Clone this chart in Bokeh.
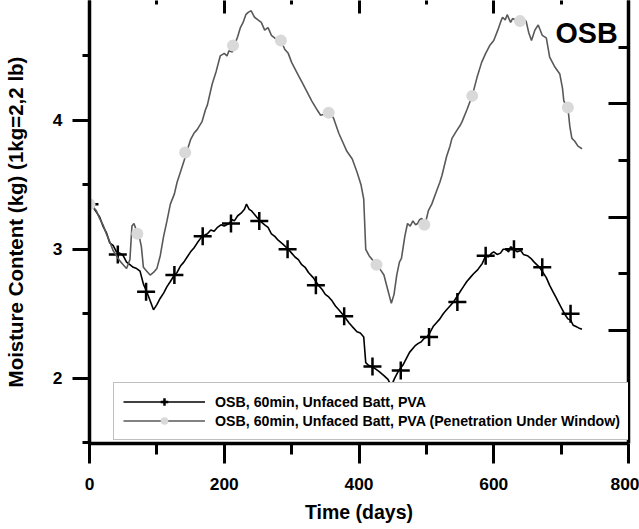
from bokeh.plotting import figure
from bokeh.models import (LinearAxis, Range1d, FixedTicker, Legend, LegendItem, Label)
from bokeh.embed import file_html
from bokeh.resources import INLINE

# ---- data ----
days_a = [0, 5, 10, 15, 20, 25, 30, 35, 40, 45, 50, 55, 60, 65, 70, 75, 80, 85, 90, 95,
          100, 105, 110, 115, 120, 126, 130, 135, 140, 145, 150, 155, 160, 167, 175, 180,
          185, 190, 195, 200, 207, 212, 215, 220, 225, 230, 233, 237, 240, 245, 253, 260,
          265, 270, 275, 280, 287, 295, 300, 305, 310, 315, 320, 325, 332, 340, 345, 350,
          355, 360, 365, 370, 378, 385, 390, 397, 402, 407, 410, 414, 418, 422, 425, 430,
          437, 443, 448, 453, 459, 465, 470, 475, 483, 488, 492, 497, 501, 506, 510, 515,
          520, 525, 530, 535, 540, 545, 550, 555, 560, 565, 570, 576, 583, 588, 592, 597,
          600, 605, 610, 614, 618, 622, 625, 630, 635, 640, 644, 650, 655, 660, 668, 673,
          678, 683, 688, 692, 695, 700, 705, 710, 714, 718, 722, 726, 731]
moist_a = [3.35, 3.33, 3.29, 3.25, 3.18, 3.13, 3.05, 3.03, 2.98, 2.97, 2.95, 2.90, 2.88, 2.86,
           2.85, 2.83, 2.73, 2.67, 2.60, 2.53, 2.57, 2.62, 2.66, 2.71, 2.75, 2.80, 2.82, 2.87,
           2.90, 2.94, 2.98, 3.01, 3.05, 3.10, 3.12, 3.15, 3.14, 3.17, 3.19, 3.18, 3.20, 3.23,
           3.22, 3.26, 3.28, 3.31, 3.35, 3.31, 3.30, 3.27, 3.22, 3.19, 3.17, 3.12, 3.10, 3.07,
           3.04, 3.00, 2.97, 2.94, 2.92, 2.88, 2.86, 2.82, 2.78, 2.72, 2.69, 2.65, 2.63, 2.60,
           2.56, 2.53, 2.48, 2.43, 2.40, 2.36, 2.35, 2.32, 2.12, 2.10, 2.09, 2.08, 2.07, 2.05,
           2.02, 1.99, 1.94, 2.00, 2.06, 2.10, 2.15, 2.20, 2.25, 2.27, 2.28, 2.31, 2.32, 2.36,
           2.40, 2.43, 2.46, 2.50, 2.53, 2.56, 2.59, 2.63, 2.67, 2.71, 2.75, 2.78, 2.81, 2.84,
           2.89, 2.95, 2.94, 2.97, 2.98, 2.96, 2.97, 3.00, 3.00, 2.98, 3.02, 3.00, 2.98, 2.99,
           2.96, 2.95, 2.93, 2.90, 2.86, 2.82, 2.78, 2.72, 2.67, 2.63, 2.60, 2.55, 2.50, 2.46,
           2.45, 2.41, 2.40, 2.39, 2.38]

days_b = [0, 5, 10, 15, 20, 25, 30, 35, 40, 45, 50, 55, 60, 63, 66, 70, 73, 77, 80, 85, 90,
          95, 100, 105, 110, 115, 120, 126, 130, 135, 140, 144, 150, 155, 160, 167, 172, 175,
          182, 188, 194, 200, 204, 207, 212, 215, 220, 224, 228, 232, 236, 240, 245, 250, 255,
          260, 265, 270, 277, 284, 290, 295, 300, 305, 310, 315, 320, 325, 330, 338, 343, 350,
          355, 362, 366, 370, 376, 382, 390, 397, 403, 407, 410, 415, 421, 427, 432, 437, 442,
          448, 452, 456, 460, 463, 468, 472, 476, 480, 484, 487, 490, 493, 498, 503, 508, 515,
          520, 523, 530, 535, 538, 545, 550, 553, 560, 568, 575, 582, 588, 594, 600, 606, 610,
          613, 617, 620, 625, 628, 632, 638, 643, 648, 652, 656, 661, 666, 672, 678, 683, 690,
          698, 702, 704, 710, 713, 716, 720, 725, 731]
moist_b = [3.35, 3.33, 3.30, 3.24, 3.19, 3.12, 3.06, 2.99, 2.95, 2.91, 2.88, 2.85, 2.92, 3.18,
           3.20, 3.14, 3.12, 3.02, 2.86, 2.83, 2.80, 2.82, 2.85, 2.95, 3.10, 3.22, 3.35, 3.43,
           3.52, 3.60, 3.68, 3.75, 3.85, 3.90, 3.93, 3.99, 4.08, 4.12, 4.28, 4.38, 4.50, 4.52,
           4.50, 4.54, 4.53, 4.58, 4.65, 4.72, 4.76, 4.82, 4.84, 4.85, 4.80, 4.78, 4.76, 4.70,
           4.72, 4.66, 4.63, 4.62, 4.55, 4.52, 4.45, 4.40, 4.35, 4.30, 4.25, 4.20, 4.15, 4.08,
           4.04, 4.05, 4.06, 4.02, 3.96, 3.90, 3.83, 3.76, 3.70, 3.60, 3.50, 3.39, 3.00, 2.95,
           2.91, 2.88, 2.84, 2.80, 2.70, 2.58, 2.65, 2.80, 2.90, 2.93, 3.10, 3.20, 3.18, 3.22,
           3.19, 3.20, 3.23, 3.24, 3.19, 3.30, 3.35, 3.45, 3.52, 3.57, 3.72, 3.80, 3.86, 3.92,
           3.96, 3.99, 4.08, 4.19, 4.33, 4.45, 4.52, 4.58, 4.62, 4.70, 4.76, 4.80, 4.78, 4.82,
           4.76, 4.79, 4.78, 4.77, 4.79, 4.77, 4.68, 4.62, 4.70, 4.74, 4.66, 4.64, 4.49, 4.42,
           4.36, 4.25, 4.15, 4.10, 3.95, 3.86, 3.84, 3.80, 3.78]

mark_days_a = [0, 42, 84, 126, 168, 210, 252, 294, 336, 378, 420, 462, 504, 546, 588, 630, 672, 714]
mark_moist_a = [3.35, 2.96, 2.67, 2.80, 3.10, 3.20, 3.22, 3.00, 2.72, 2.48, 2.09, 2.06, 2.32,
                2.59, 2.95, 3.00, 2.86, 2.50]
mark_days_b = [0, 71, 142, 213, 284, 355, 426, 497, 568, 639, 710]
mark_moist_b = [3.35, 3.12, 3.75, 4.58, 4.62, 4.06, 2.88, 3.19, 4.19, 4.77, 4.10]

label_a = "OSB, 60min, Unfaced Batt, PVA"
label_b = "OSB, 60min, Unfaced Batt, PVA (Penetration Under Window)"
x_ticks = [0, 200, 400, 600, 800]
x_minor = [100, 300, 500, 700]
y_ticks = [2, 3, 4]
y_minor = [1.5, 2.5, 3.5, 4.5]
r_ticks = [6, 8, 10]
r_minor = [5, 7, 9, 11]

FONT = "Liberation Sans"

p = figure(width=639, height=525, output_backend="svg", toolbar_location=None,
           x_range=Range1d(0, 800), y_range=Range1d(1.493, 4.93),
           min_border_left=83, min_border_right=11, min_border_top=0, min_border_bottom=80)
p.outline_line_color = None
p.grid.visible = False
p.background_fill_color = "white"

# main axes
xa = p.xaxis[0]
ya = p.yaxis[0]
xa.ticker = FixedTicker(ticks=x_ticks, minor_ticks=x_minor)
ya.ticker = FixedTicker(ticks=y_ticks, minor_ticks=y_minor)
for ax in (xa, ya):
    ax.axis_line_width = 3.5
    ax.axis_line_color = "black"
    ax.major_tick_line_width = 3
    ax.minor_tick_line_width = 3
    ax.major_tick_in = 0
    ax.minor_tick_in = 0
    ax.major_label_text_font = FONT
    ax.major_label_text_font_style = "bold"
    ax.major_label_text_font_size = "17.4px"
    ax.major_label_text_color = "black"
    ax.axis_label_text_font = FONT
    ax.axis_label_text_font_style = "bold"
    ax.axis_label_text_color = "black"
xa.major_tick_out = 20
xa.minor_tick_out = 11
xa.major_label_standoff = 14
xa.axis_label = "Time (days)"
xa.axis_label_text_font_size = "19.5px"
xa.axis_label_standoff = 8
ya.major_tick_out = 17
ya.minor_tick_out = 7
ya.major_label_standoff = 10
ya.axis_label = "Moisture Content (kg) (1kg=2,2 lb)"
ya.axis_label_text_font_size = "20.5px"
ya.axis_label_standoff = 23

# top axis (ticks only)
top = LinearAxis(ticker=FixedTicker(ticks=x_ticks, minor_ticks=x_minor),
                 axis_line_color=None, major_tick_in=13, major_tick_out=0,
                 minor_tick_in=4, minor_tick_out=0, major_tick_line_width=3,
                 minor_tick_line_width=3, major_label_overrides={t: "" for t in x_ticks},
                 major_label_standoff=-30)
p.add_layout(top, "above")

# right axis (secondary scale, ticks only)
p.extra_y_ranges = {"r": Range1d(4.0, 11.824)}
right = LinearAxis(y_range_name="r", ticker=FixedTicker(ticks=r_ticks, minor_ticks=r_minor),
                   axis_line_width=3.5, major_tick_in=20, major_tick_out=0,
                   minor_tick_in=10, minor_tick_out=0, major_tick_line_width=3,
                   minor_tick_line_width=3, major_label_overrides={t: "" for t in r_ticks},
                   major_label_standoff=0)
p.add_layout(right, "right")

# series
ra_line = p.line(days_a, moist_a, line_color="black", line_width=1.6)
ra_mark = p.scatter(mark_days_a, mark_moist_a, marker="cross", size=18, line_color="black",
                    line_width=2.5)
rb_line = p.line(days_b, moist_b, line_color="#595959", line_width=1.6)
rb_mark = p.scatter(mark_days_b, mark_moist_b, marker="circle", size=12, fill_color="#d9d9d9",
                    line_color=None)

legend = Legend(items=[LegendItem(label=label_a, renderers=[ra_line, ra_mark]),
                       LegendItem(label=label_b, renderers=[rb_line, rb_mark])],
                location=(24, 3), orientation="vertical",
                border_line_color="#808080", border_line_width=1,
                background_fill_color="white", background_fill_alpha=1,
                label_text_font=FONT, label_text_font_style="bold",
                label_text_font_size="14.2px", label_text_color="black",
                glyph_width=82, glyph_height=19, label_height=19, spacing=0,
                padding=9, margin=0, label_standoff=10)
p.add_layout(legend, "center")

p.add_layout(Label(x=784, y=4.68, text="OSB", text_align="right",
                   text_baseline="alphabetic", text_font=FONT, text_font_style="bold",
                   text_font_size="28.7px", text_color="black"))

open("out.html", "w").write(file_html(p, INLINE))
